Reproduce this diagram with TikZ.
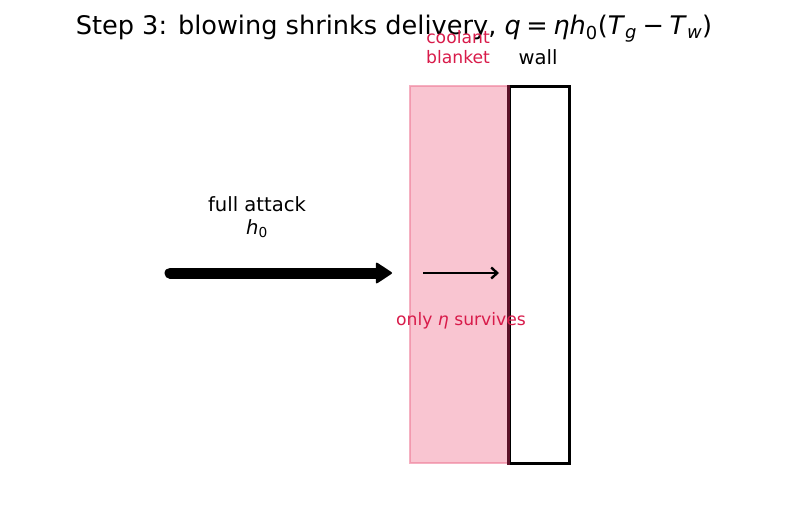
\documentclass[tikz,border=0pt]{standalone}
\usepackage{fontspec}
\setmainfont{DejaVu Sans}
\usetikzlibrary{arrows.meta}
\definecolor{crim}{HTML}{D81B4A}
\definecolor{blfill}{HTML}{F48BA3}
\definecolor{bledge}{HTML}{EE7C98}
\definecolor{maroon}{HTML}{5C1228}
\newcommand{\mi}[1]{\textit{#1}}
\newcommand{\msp}{\hspace{0.22em}}
\begin{document}
\begin{tikzpicture}[x=1pt,y=-1pt,
  lbl/.style={inner sep=0pt,align=center,font=\fontsize{19.6}{23}\selectfont},
  redlbl/.style={inner sep=0pt,align=center,text=crim,font=\fontsize{17.2}{20}\selectfont},
  wallbox/.style={draw=black,line width=3.3pt,fill=white},
  blanketbox/.style={draw=bledge,line width=2pt,fill=blfill,fill opacity=0.5,draw opacity=0.6},
  bigarrow/.style={line width=11pt,line cap=round,-{Triangle[length=17pt,width=22pt,round,line width=2pt]}},
  smallarrow/.style={line width=2.4pt,-{Straight Barb[length=6pt,width=11pt]}}]
\useasboundingbox (0,0) rectangle (787,514);
\node[inner sep=0pt,font=\fontsize{25.6}{30}\selectfont] (title) at (394,29) {Step 3: blowing shrinks delivery, \mi{q}\msp=\msp\mi{η}\mi{h}\textsubscript{0}(\mi{T}\textsubscript{\mi{g}}\msp−\msp\mi{T}\textsubscript{\mi{w}})};
\node[wallbox,minimum width=60pt,minimum height=377pt,anchor=north west] (wall) at (508,85) {};
\node[blanketbox,minimum width=99pt,minimum height=377pt,anchor=north west] (blanket) at (409,85) {};
\draw[maroon,line width=3pt] (wall.north west) -- (wall.south west);
\node[redlbl] (cool) at (458,47) {coolant\\blanket};
\node[lbl] (walllbl) at (538,57) {wall};
\node[lbl] (full) at (257,217) {full attack\\\mi{h}\textsubscript{0}};
\coordinate (a1) at (170,273);
\coordinate (a2) at (392,273);
\draw[bigarrow] (a1) -- (a2);
\coordinate (b1) at (423,273);
\coordinate (b2) at (499,273);
\draw[smallarrow] (b1) -- (b2);
\node[redlbl] (only) at (461,321) {only \mi{η} survives};
\end{tikzpicture}
\end{document}
